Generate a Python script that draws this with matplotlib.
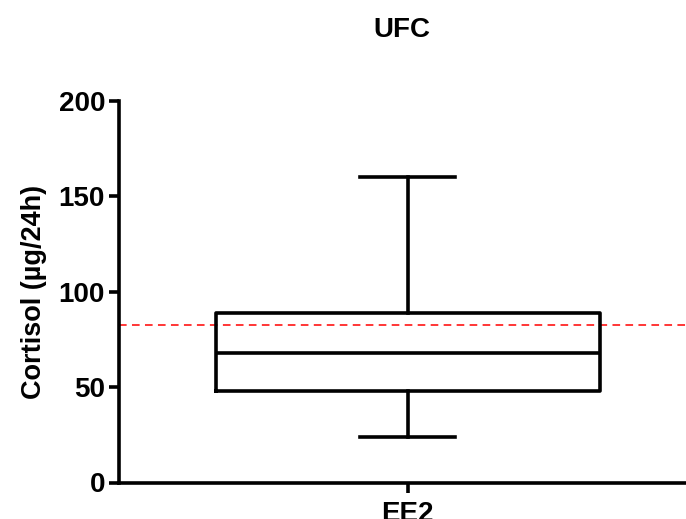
import matplotlib
matplotlib.use('Agg')
from matplotlib import pyplot as plt

plt.rcParams['font.family'] = ['Liberation Sans', 'DejaVu Sans']
plt.rcParams['font.weight'] = 'bold'

categories = ['EE2']
whisker_low = [24]
q1 = [48]
median = [68]
q3 = [89]
whisker_high = [160]
reference_line = 82.5

fig = plt.figure(figsize=(6.86, 5.19), dpi=100)
ax = fig.add_axes([119 / 686, 1 - 482.5 / 519, 1.02 - 119 / 686, (482.5 - 100.7) / 519])

stats = []
for i, name in enumerate(categories):
    stats.append({'label': name, 'whislo': whisker_low[i], 'q1': q1[i], 'med': median[i],
                  'q3': q3[i], 'whishi': whisker_high[i]})

lw = 2.6
ax.bxp(stats, positions=[0], widths=0.665, showfliers=False,
       boxprops=dict(color='black', linewidth=lw),
       medianprops=dict(color='black', linewidth=lw),
       whiskerprops=dict(color='black', linewidth=lw),
       capprops=dict(color='black', linewidth=lw),
       capwidths=0.165)

ax.axhline(reference_line, color='#ff0000', linestyle=(0, (5, 3.5)), linewidth=1.1, zorder=0)

ax.set_xlim(-0.5, 0.506)
ax.set_ylim(0, 200)
ax.set_yticks([0, 50, 100, 150, 200])
ax.set_xticks([0])
ax.set_xticklabels(categories)

for side in ['top', 'right']:
    ax.spines[side].set_visible(False)
for side in ['left', 'bottom']:
    ax.spines[side].set_linewidth(2.6)

ax.tick_params(axis='both', width=2.6, length=7, labelsize=20, direction='out')
ax.tick_params(axis='x', pad=6)
ax.tick_params(axis='y', pad=3)
for lbl in ax.get_xticklabels() + ax.get_yticklabels():
    lbl.set_fontweight('bold')

ax.set_ylabel('Cortisol (µg/24h)', fontsize=19.5, fontweight='bold', labelpad=8)

fig.text(402 / 686, 1 - 30 / 519, 'UFC', ha='center', va='center', fontsize=20, fontweight='bold')

fig.savefig('out.png', dpi=100)
